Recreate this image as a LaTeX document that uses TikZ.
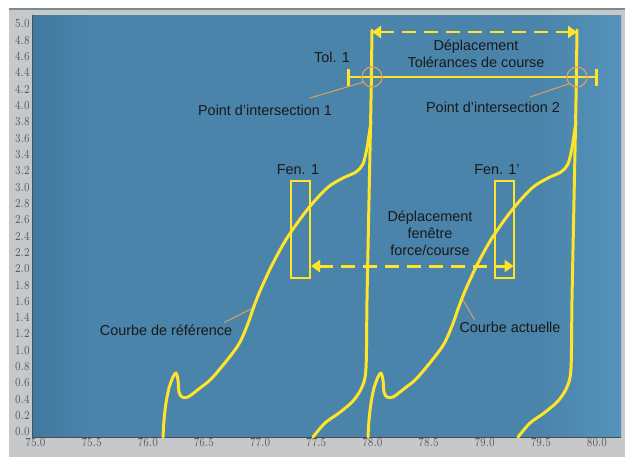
\documentclass[tikz,border=0pt]{standalone}
\usepackage{fontspec}
\setmainfont{Liberation Sans}
\usepackage{graphicx}
\usetikzlibrary{arrows.meta,calc}

\definecolor{panelgrey}{RGB}{199,200,202}
\definecolor{rulegrey}{RGB}{125,138,145}
\definecolor{plotblue}{RGB}{74,132,170}
\definecolor{plotbluedark}{RGB}{64,121,159}
\definecolor{plotbluelight}{RGB}{86,146,188}
\definecolor{curveyellow}{RGB}{255,228,40}
\definecolor{leadertan}{RGB}{214,160,100}
\definecolor{tickgrey}{RGB}{85,90,95}

\newcommand{\ticktext}[1]{\fontsize{6.9}{8}\selectfont\scalebox{0.8}[1]{#1}}

\tikzset{
  curve/.style={curveyellow, line width=1.7pt, line cap=round, line join=round},
  dasharrow/.style={curveyellow, line width=1.7pt, dash pattern=on 2.8mm off 1.6mm,
    {Triangle[length=1.8mm,width=2.4mm]}-{Triangle[length=1.8mm,width=2.4mm]}},
  tolline/.style={curveyellow, line width=1.7pt, {Bar[width=3.4mm]}-{Bar[width=3.4mm]}},
  fenbox/.style={draw=curveyellow, line width=1.2pt, minimum width=3.8mm, minimum height=19.4mm, inner sep=0pt},
  ipcirc/.style={circle, draw=leadertan, line width=0.7pt, minimum size=4mm, inner sep=0pt},
  leader/.style={leadertan, line width=0.6pt},
  lbl/.style={font=\fontsize{8.2}{9.8}\selectfont, text=black!90, inner sep=1pt},
  tick/.style={text=tickgrey, inner sep=0pt}
}

\begin{document}
\begin{tikzpicture}[x=0.02cm, y=-0.02cm]
\useasboundingbox (0,0) rectangle (625,457);

% panel and plot area
\fill[white] (0,0) rectangle (625,457);
\fill[panelgrey] (9,9) rectangle (625,457);
\draw[rulegrey, line width=0.8pt] (9,9) -- (625,9);
\fill[plotblue] (32,15) rectangle (621,437);
\shade[left color=plotbluedark, right color=plotblue] (32,15) rectangle (90,437);
\shade[left color=plotblue, right color=plotbluelight] (540,15) rectangle (621,437);
\draw[gray!60!black, line width=0.5pt] (32,15) -- (32,437) -- (621,437);

% axis labels
\foreach \v in {0,...,25} {
  \pgfmathsetmacro{\val}{\v*0.2}
  \node[tick, anchor=east] (ylab\v) at (30,432-\v*16.33)
    {\ticktext{\pgfmathprintnumber[fixed,fixed zerofill,precision=1]{\val}}};
}
\foreach \i in {0,...,10} {
  \pgfmathsetmacro{\val}{75+\i*0.5}
  \node[tick] (xlab\i) at (35.5+\i*56.15,443)
    {\ticktext{\pgfmathprintnumber[fixed,fixed zerofill,precision=1]{\val}}};
}

% reference curve and current curve
\foreach \sh in {0,205} {
\begin{scope}[shift={(\sh,0)}]
\draw[curve] plot[smooth, tension=0.5] coordinates {
  (163,437) (164,420) (166,403) (169,388) (173,377) (176,373) (178,380)
  (179,392) (182,397) (188,397) (200,388) (213,377) (237,347) (247,326)
  (253,309) (260,291) (272,265) (287,238) (307,210) (327,188) (343,178)
  (356,172) (363,164) (367,148) (369,135) (371,122)};
\draw[curve] plot[smooth, tension=0.5] coordinates {
  (372,30) (371,100) (369,200) (367,300) (366,368) (362,387) (353,401)
  (339,413) (325,423) (313,437)};
\end{scope}
}

% shift of the tolerances
\coordinate (topL) at (372,32);
\coordinate (topR) at (577,32);
\draw[dasharrow] (topL) -- (topR);
\node[lbl, align=center] (tolshift) at (476,53.5) {Déplacement\\Tolérances de course};

\coordinate (tolL) at (347,77);
\coordinate (tolR) at (598,77);
\draw[tolline] (tolL) -- (tolR);
\node[lbl] (tol1) at (332,57) {Tol. 1};

\node[ipcirc] (ip1) at (372,77) {};
\node[ipcirc] (ip2) at (577,77) {};
\node[lbl] (pi1) at (265,110) {Point d’intersection 1};
\node[lbl] (pi2) at (493,107) {Point d’intersection 2};
\coordinate (pi1end) at (310,98);
\coordinate (pi2end) at (530,97);
\draw[leader] (ip1.210) -- (pi1end);
\draw[leader] (ip2.220) -- (pi2end);

% force/stroke windows
\node[fenbox] (fen1) at (300.5,229.5) {};
\node[fenbox] (fen1b) at (504.5,229.5) {};
\node[lbl] (fen1lbl) at (298,170) {Fen. 1};
\node[lbl] (fen1blbl) at (497,170) {Fen. 1’};
\draw[dasharrow] ([yshift=2.6mm]fen1.south east) -- ([xshift=-0.3mm,yshift=2.6mm]fen1b.south east);
\node[lbl, align=center] (winshift) at (430,233) {Déplacement\\fenêtre\\force/course};

% curve names
\node[lbl] (reflbl) at (166,330) {Courbe de référence};
\node[lbl] (curlbl) at (510,327) {Courbe actuelle};
\coordinate (refpt) at (251,309);
\coordinate (curpt) at (463,300);
\draw[leader] ([xshift=-2mm]reflbl.north east) -- (refpt);
\draw[leader] ([xshift=3.4mm]curlbl.north west) -- (curpt);

\end{tikzpicture}
\end{document}
